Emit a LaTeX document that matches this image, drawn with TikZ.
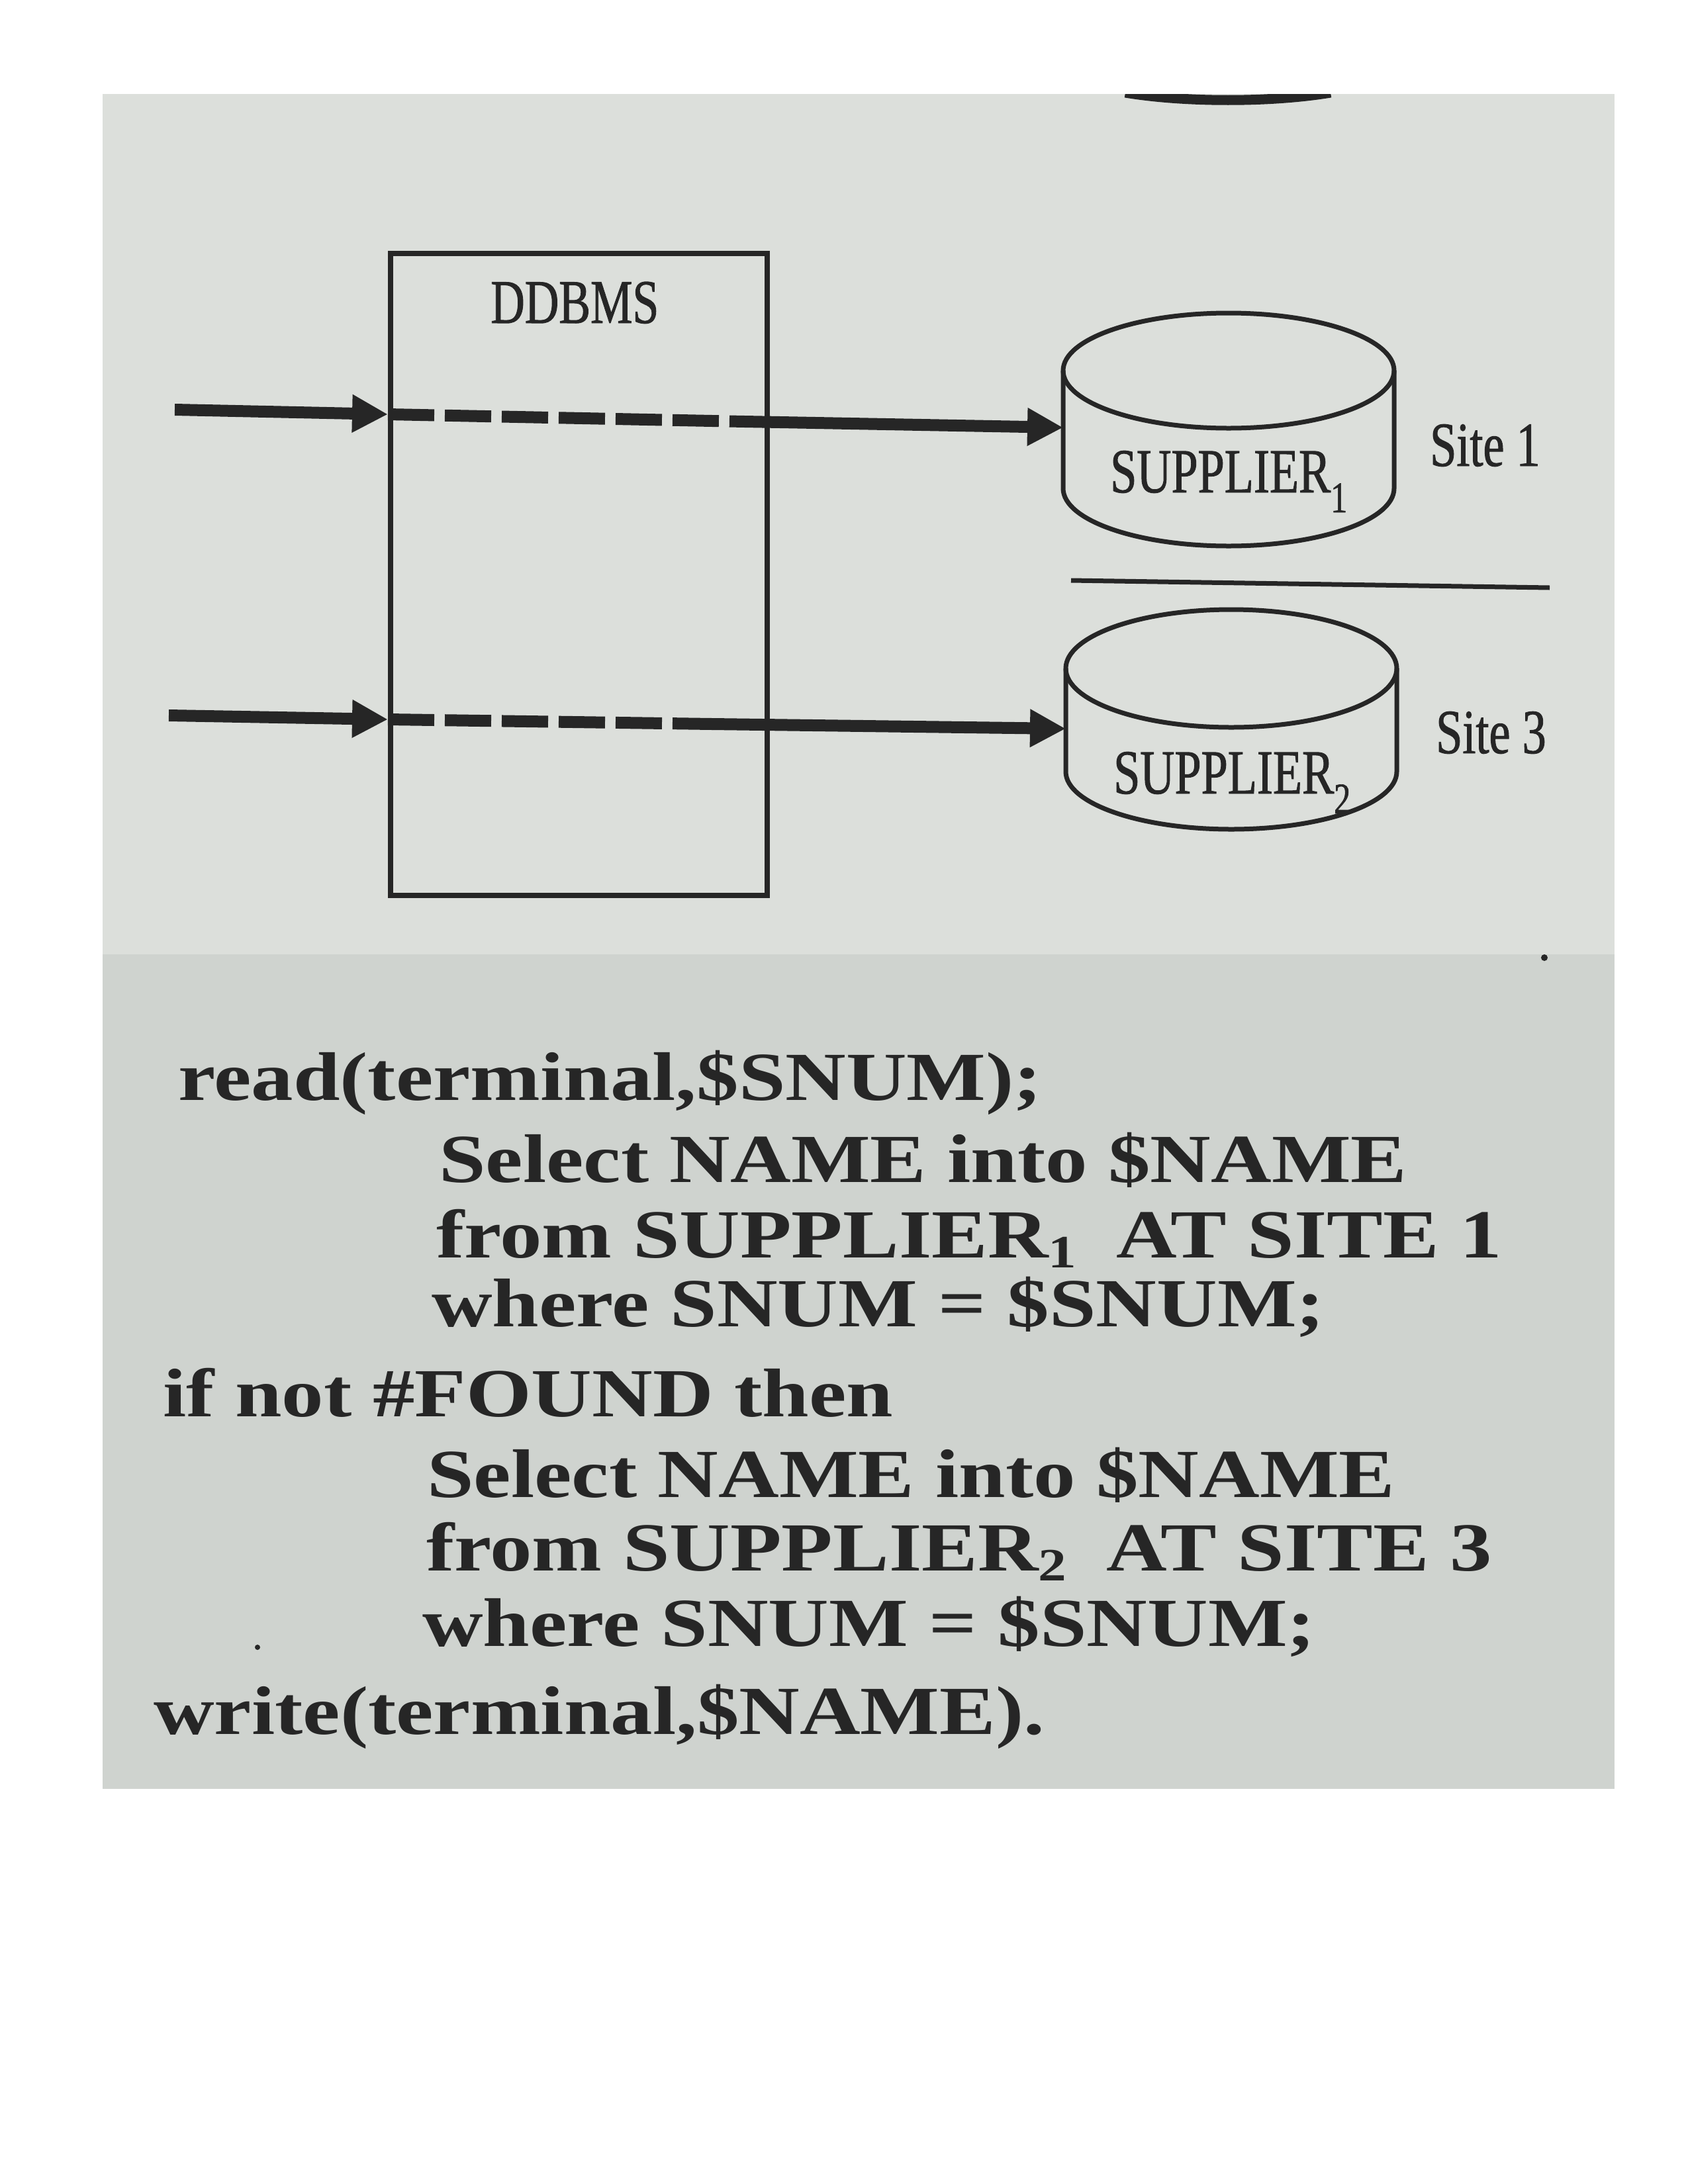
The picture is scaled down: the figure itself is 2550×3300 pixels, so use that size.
\documentclass[tikz,border=0pt]{standalone}
\usepackage{fontspec}
\setmainfont{Liberation Serif}
\newfontfamily\diagfont[FakeStretch=0.76,FakeBold=1]{Liberation Serif}
\newfontfamily\codefont[FakeStretch=1.22]{Liberation Serif}
\usetikzlibrary{arrows.meta}
\definecolor{ink}{HTML}{262626}
\definecolor{paperA}{HTML}{DCDFDB}
\definecolor{paperB}{HTML}{CFD3CF}
\tikzset{
  flow/.style={line width=18pt, draw=ink, -{Triangle[length=54pt,width=54pt]}},
  flowdash/.style={line width=18pt, draw=ink, dash pattern=on 70pt off 16pt},
  outline/.style={line width=8pt, draw=ink},
  cyl/.style={line width=7pt, draw=ink},
  difflabel/.style={inner sep=0pt, anchor=base west, text=ink, font=\diagfont\fontsize{95pt}{100pt}\selectfont},
  codeline/.style={inner sep=0pt, anchor=base west, text=ink, font=\codefont\bfseries\fontsize{104pt}{120pt}\selectfont},
}
\newcommand{\dsub}[1]{\raisebox{-30pt}{\fontsize{66pt}{66pt}\selectfont #1}}
\newcommand{\csub}[1]{\smash{\raisebox{-15pt}{\fontsize{70pt}{70pt}\selectfont #1}}}
\begin{document}
\begin{tikzpicture}[x=1pt,y=1pt]
\useasboundingbox (0,0) rectangle (2550,-3300);
\fill[white] (0,0) rectangle (2550,-3300);
% photographed page
\fill[paperA] (155,-142) rectangle (2439,-1442);
\fill[paperB] (155,-1442) rectangle (2439,-2703);
\begin{scope}
  \clip (155,-142) rectangle (2439,-1442);
  \draw[ink, line width=15pt] (1700,-140) .. controls (1790,-155) and (1920,-155) .. (2010,-140);
\end{scope}
\fill[ink] (2333,-1447) circle[radius=5pt];
\fill[ink] (389,-2489) circle[radius=4pt];

% DDBMS box
\node[outline, rectangle, inner sep=0pt, minimum width=569pt, minimum height=970pt, anchor=north west] (ddbms) at (586,-379) {};
\node[difflabel, font=\diagfont\fontsize{94pt}{100pt}\selectfont] (ddbmslabel) at (741,-488) {DDBMS};

% cylinders
\draw[cyl] (1856,-560) ellipse [x radius=250pt, y radius=87pt];
\draw[cyl] (1606,-560) -- (1606,-738) arc[start angle=180, end angle=360, x radius=250pt, y radius=87pt] -- (2106,-560);
\draw[cyl] (1860,-1010) ellipse [x radius=250pt, y radius=89pt];
\draw[cyl] (1610,-1010) -- (1610,-1166) arc[start angle=180, end angle=360, x radius=250pt, y radius=87pt] -- (2110,-1010);
\draw[cyl] (1618,-877) -- (2341,-888);

\node[difflabel] (sup1) at (1677,-744) {SUPPLIER\dsub{1}};
\node[difflabel] (site1) at (2160,-704) {Site 1};
\node[difflabel] (sup2) at (1682,-1199) {SUPPLIER\dsub{2}};
\node[difflabel] (site3) at (2169,-1138) {Site 3};

% arrows
\coordinate (in1) at (264,-619);
\coordinate (box1) at (586,-626);
\coordinate (mid1) at (1125,-637);
\coordinate (db1) at (1606,-646);
\coordinate (in2) at (255,-1081);
\coordinate (box2) at (586,-1087);
\coordinate (mid2) at (1076,-1094);
\coordinate (db2) at (1610,-1101);
\draw[flow] (in1) -- (box1);
\draw[flowdash] (box1) -- (mid1);
\draw[flow] (mid1) -- (db1);
\draw[flow] (in2) -- (box2);
\draw[flowdash] (box2) -- (mid2);
\draw[flow] (mid2) -- (db2);

% program text
\node[codeline] (code1) at (269,-1662) {read(terminal,\$SNUM);};
\node[codeline] (code2) at (663,-1786) {Select NAME into \$NAME};
\node[codeline] (code3) at (659,-1900) {from SUPPLIER\csub{1}\hspace{28pt} AT SITE 1};
\node[codeline] (code4) at (652,-2004) {where SNUM = \$SNUM;};
\node[codeline] (code5) at (246,-2140) {if not \#FOUND then};
\node[codeline] (code6) at (645,-2262) {Select NAME into \$NAME};
\node[codeline] (code7) at (644,-2373) {from SUPPLIER\csub{2}\hspace{28pt} AT SITE 3};
\node[codeline] (code8) at (638,-2487) {where SNUM = \$SNUM;};
\node[codeline] (code9) at (232,-2620) {write(terminal,\$NAME).};
\end{tikzpicture}
\end{document}
